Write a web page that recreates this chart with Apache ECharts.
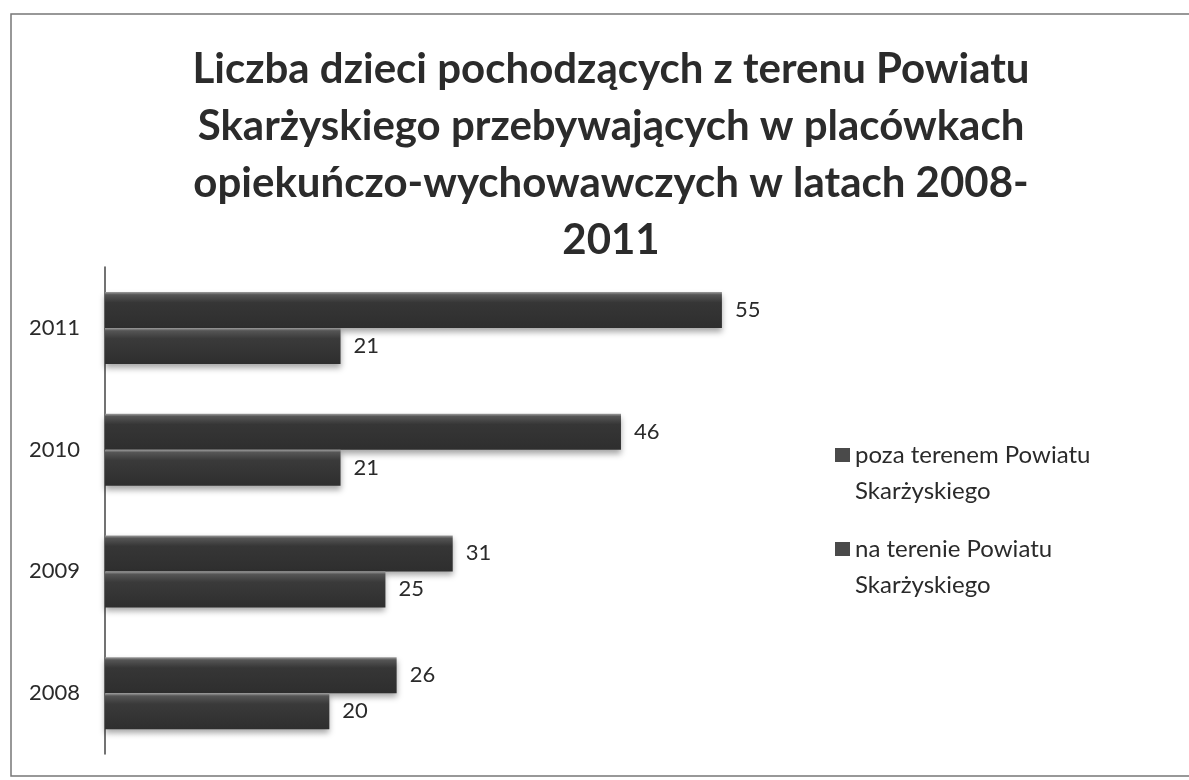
<!DOCTYPE html>
<html>
<head>
<meta charset="utf-8">
<script src="https://cdn.jsdelivr.net/npm/echarts@6/dist/echarts.min.js"></script>
<style>
html,body{margin:0;padding:0;background:#fff;}
#diagram{width:1189px;height:780px;}
</style>
</head>
<body>
<div id="diagram"></div>
<script>
// lata (od dołu do góry)
var years = ['2008', '2009', '2010', '2011'];
// poza terenem Powiatu Skarżyskiego
var pozaTerenem = [26, 31, 46, 55];
// na terenie Powiatu Skarżyskiego
var naTerenie = [20, 25, 21, 21];
var seriesNames = ['poza terenem Powiatu Skarżyskiego', 'na terenie Powiatu Skarżyskiego'];
// pusta linia na poczatku - pierwsza linia tekstu na wysokosci ikony
var legendLabels = {
	'poza terenem Powiatu Skarżyskiego': '\npoza terenem Powiatu\nSkarżyskiego',
	'na terenie Powiatu Skarżyskiego': '\nna terenie Powiatu\nSkarżyskiego'
};

var barColor = function(dark){
	return new echarts.graphic.LinearGradient(0, 0, 0, 1, [
		{offset: 0, color: '#a0a0a0'},
		{offset: 0.08, color: '#555'},
		{offset: 0.3, color: dark},
		{offset: 1, color: '#2e2e2e'}
	]);
};

var font = 'Lato, "Open Sans", sans-serif';

var labelStyle = {
	show: true,
	position: 'right',
	distance: 13,
	fontFamily: font,
	fontSize: 22,
	color: '#2a2a2a'
};

var option = {
	backgroundColor: '#fff',
	animation: false,
	title: {
		text: 'Liczba dzieci pochodzących z terenu Powiatu\nSkarżyskiego przebywających w placówkach\nopiekuńczo-wychowawczych w latach 2008-\n2011',
		left: 606,
		top: 36,
		textAlign: 'center',
		textStyle: {
			fontFamily: font,
			fontWeight: 'bold',
			fontSize: 42,
			lineHeight: 57,
			color: '#2b2b2b'
		}
	},
	graphic: [{
		type: 'rect',
		shape: {x: 11, y: 14, width: 1200, height: 762},
		style: {fill: null, stroke: '#777', lineWidth: 1.5},
		silent: true
	}],
	legend: {
		orient: 'vertical',
		left: 830,
		top: 396,
		itemGap: -14,
		itemWidth: 15,
		itemHeight: 14,
		icon: 'rect',
		itemStyle: {color: '#4a4a4a'},
		data: [seriesNames[0], seriesNames[1]],
		formatter: function(name){ return legendLabels[name]; },
		textStyle: {
			fontFamily: font,
			fontSize: 24,
			lineHeight: 36,
			color: '#2a2a2a'
		}
	},
	grid: {
		left: 105,
		right: 411,
		top: 267,
		bottom: 26,
		containLabel: false
	},
	xAxis: {
		type: 'value',
		min: 0,
		max: 60,
		show: false
	},
	yAxis: {
		type: 'category',
		data: years,
		axisLine: {show: true, lineStyle: {color: '#444', width: 1.5}},
		axisTick: {show: false},
		axisLabel: {
			margin: 25,
			fontFamily: font,
			fontSize: 22,
			color: '#2a2a2a'
		}
	},
	series: [
		{
			name: seriesNames[0],
			type: 'bar',
			data: pozaTerenem,
			barWidth: 36,
			barGap: '0%',
			itemStyle: {
				color: barColor('#363636'),
				shadowColor: 'rgba(0,0,0,0.35)',
				shadowBlur: 6,
				shadowOffsetY: 4
			},
			label: labelStyle
		},
		{
			name: seriesNames[1],
			type: 'bar',
			data: naTerenie,
			barWidth: 36,
			barGap: '0%',
			itemStyle: {
				color: barColor('#3a3a3a'),
				shadowColor: 'rgba(0,0,0,0.35)',
				shadowBlur: 6,
				shadowOffsetY: 4
			},
			label: labelStyle
		}
	]
};

var myChart = echarts.init(document.getElementById('diagram'));
myChart.setOption(option);
</script>
</body>
</html>
